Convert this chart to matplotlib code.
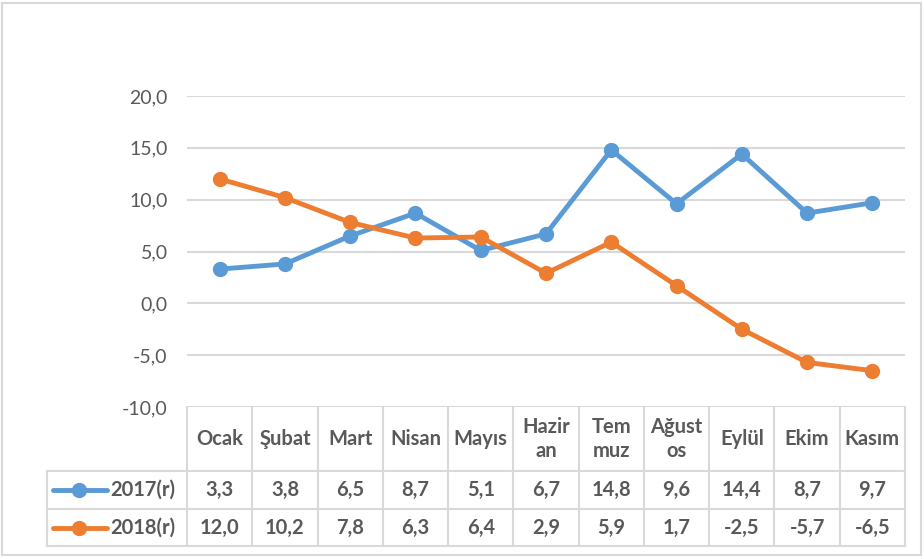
import matplotlib
matplotlib.use("Agg")
import matplotlib.pyplot as plt
from matplotlib.transforms import blended_transform_factory
from matplotlib.lines import Line2D
from matplotlib.patches import Rectangle

plt.rcParams['font.family'] = ['Lato', 'DejaVu Sans']

categories = ["Ocak", "Şubat", "Mart", "Nisan", "Mayıs", "Hazir\nan", "Tem\nmuz", "Ağust\nos", "Eylül", "Ekim", "Kasım"]
series_names = ["2017(r)", "2018(r)"]
values_2017 = [3.3, 3.8, 6.5, 8.7, 5.1, 6.7, 14.8, 9.6, 14.4, 8.7, 9.7]
values_2018 = [12.0, 10.2, 7.8, 6.3, 6.4, 2.9, 5.9, 1.7, -2.5, -5.7, -6.5]
yticks = [-10, -5, 0, 5, 10, 15, 20]

colors = ["#5B9BD5", "#ED7D31"]
grid_c = "#D9D9D9"
text_c = "#595959"

W, H = 924, 559
fig = plt.figure(figsize=(W/100, H/100), dpi=100)
fig.patches.append(Rectangle((2/W, 4/H), (W-5)/W, (H-7)/H, transform=fig.transFigure,
                             fill=False, edgecolor=grid_c, linewidth=1.5))

def fy(py):
    return 1 - py / H

ax_l, ax_r, ax_t, ax_b = 187, 905, 96, 407
ax = fig.add_axes([ax_l/W, fy(ax_b), (ax_r-ax_l)/W, (ax_b-ax_t)/H])
x = list(range(len(categories)))
for vals, c in zip([values_2017, values_2018], colors):
    ax.plot(x, vals, color=c, lw=3.5, marker='o', markersize=10, solid_capstyle='round',
            solid_joinstyle='round', zorder=3)
ax.set_xlim(-0.5, len(categories) - 0.5)
ax.set_ylim(-10, 20)
ax.set_yticks(yticks)
ax.set_yticklabels([f"{v:.1f}".replace('.', ',') for v in yticks], fontsize=14, color=text_c)
ax.tick_params(axis='y', length=0, pad=14)
ax.set_xticks([])
ax.grid(axis='y', color=grid_c, lw=1.5)
for s in ax.spines.values():
    s.set_visible(False)
ax.set_facecolor('none')

# data table
tr = blended_transform_factory(ax.transData, fig.transFigure)
top, r1, r2, bot = fy(407), fy(471), fy(509), fy(546)
left_px = 47
n = len(categories)
for k in range(n + 1):
    xb = k - 0.5
    fig.add_artist(Line2D([xb, xb], [top, bot], transform=tr, color=grid_c, lw=1.5))
for yy in [r1, r2, bot]:
    fig.add_artist(Line2D([left_px/W, ax_r/W], [yy, yy], transform=fig.transFigure, color=grid_c, lw=1.5))
fig.add_artist(Line2D([left_px/W, left_px/W], [r1, bot], transform=fig.transFigure, color=grid_c, lw=1.5))

fs = 14.5
for i, lab in enumerate(categories):
    fig.text(i, (top + r1)/2, lab, transform=tr, ha='center', va='center', fontsize=fs,
             fontweight='bold', color=text_c, linespacing=1.25)
for vals, yc0, yc1, c, name in [(values_2017, r1, r2, colors[0], series_names[0]),
                                (values_2018, r2, bot, colors[1], series_names[1])]:
    yc = (yc0 + yc1) / 2
    for i, v in enumerate(vals):
        fig.text(i, yc, f"{v:.1f}".replace('.', ','), transform=tr, ha='center', va='center',
                 fontsize=fs, fontweight='bold', color=text_c)
    fig.add_artist(Line2D([53/W, 107/W], [yc, yc], transform=fig.transFigure, color=c, lw=3.5,
                          solid_capstyle='round'))
    fig.add_artist(Line2D([79/W], [yc], transform=fig.transFigure, color=c, marker='o', markersize=10))
    fig.text(110/W, yc, name, ha='left', va='center', fontsize=fs, fontweight='bold', color=text_c)

fig.savefig("out.png", dpi=100, facecolor='white')
